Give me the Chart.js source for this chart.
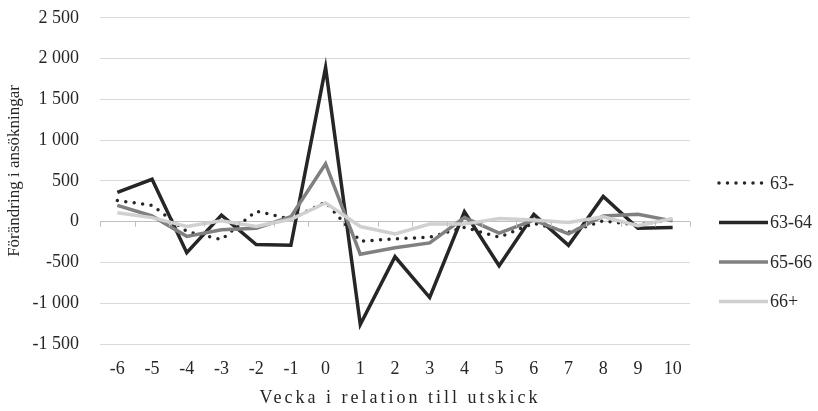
<!DOCTYPE html>
<html>
<head>
<meta charset="utf-8">
<script src="https://cdn.jsdelivr.net/npm/chart.js@4.4.0/dist/chart.umd.min.js"></script>
<style>
  html, body { margin: 0; padding: 0; background: #fff; }
  #wrap { position: relative; width: 818px; height: 411px; }
</style>
</head>
<body>
<div id="wrap"><canvas id="chart" width="818" height="411"></canvas></div>
<script>
// Weeks relative to the mailing
const weeks = ['-6', '-5', '-4', '-3', '-2', '-1', '0', '1', '2', '3', '4', '5', '6', '7', '8', '9', '10'];

// Change in applications per age group
const under63 = [260, 200, -120, -220, 130, 30, 240, -240, -210, -190, -70, -190, -20, -130, 10, -40, 30];
const age6364 = [360, 520, -380, 80, -280, -290, 1890, -1260, -430, -930, 120, -540, 90, -290, 310, -80, -70];
const age6566 = [200, 70, -180, -100, -80, 60, 710, -400, -320, -260, 50, -140, 20, -150, 70, 90, 10];
const over66  = [110, 50, -60, 10, -60, 30, 230, -60, -150, -30, -30, 40, 20, -10, 60, -50, 40];

const seriesNames = ['63-', '63-64', '65-66', '66+'];
const xTitle = 'Vecka i relation till utskick';
const yTitle = 'Förändring i ansökningar';

const FONT = 'Liberation Serif';
const TEXT = '#262626';

// thousands separated by a space, as in the source
const fmt = v => {
  const s = Math.abs(v).toString().replace(/\B(?=(\d{3})+(?!\d))/g, ' ');
  return (v < 0 ? '-' : '') + s;
};

// small tick marks on the zero line between categories
const zeroTicks = {
  id: 'zeroTicks',
  afterDatasetsDraw(chart) {
    const x = chart.scales.x, y = chart.scales.y;
    const y0 = y.getPixelForValue(0);
    const step = x.width / weeks.length;
    const ctx = chart.ctx;
    ctx.save();
    ctx.strokeStyle = '#bfbfbf';
    ctx.lineWidth = 1;
    ctx.beginPath();
    for (let i = 0; i <= weeks.length; i++) {
      const px = Math.round(x.left + i * step) + 0.5;
      ctx.moveTo(px, y0);
      ctx.lineTo(px, y0 + 5);
    }
    ctx.stroke();
    ctx.restore();
  }
};

// axis titles drawn by hand (x one is spaced out, y one sits a bit high)
const axisTitles = {
  id: 'axisTitles',
  afterDraw(chart) {
    const ctx = chart.ctx;
    const x = chart.scales.x, y = chart.scales.y;
    ctx.save();
    ctx.fillStyle = TEXT;
    ctx.textAlign = 'center';
    ctx.textBaseline = 'middle';

    ctx.font = `18px "${FONT}"`;
    if ('letterSpacing' in ctx) ctx.letterSpacing = '3px';
    ctx.fillText(xTitle, (x.left + x.right) / 2 + 5, 398);

    if ('letterSpacing' in ctx) ctx.letterSpacing = '0px';
    ctx.font = `17px "${FONT}"`;
    ctx.translate(15, (y.top + y.bottom) / 2 - 10);
    ctx.rotate(-Math.PI / 2);
    ctx.fillText(yTitle, 0, 0);
    ctx.restore();
  }
};

// legend on the right, drawn by hand to match the spacing
const sideLegend = {
  id: 'sideLegend',
  afterDraw(chart) {
    const ctx = chart.ctx;
    ctx.save();
    ctx.font = `18px "${FONT}"`;
    ctx.textBaseline = 'middle';
    ctx.fillStyle = TEXT;
    chart.data.datasets.forEach((ds, i) => {
      const yy = 183 + i * 39.5;
      ctx.beginPath();
      ctx.strokeStyle = ds.borderColor;
      ctx.lineWidth = ds.borderWidth;
      ctx.lineCap = ds.borderCapStyle || 'butt';
      ctx.setLineDash(ds.borderDash || []);
      ctx.moveTo(719, yy);
      ctx.lineTo(768, yy);
      ctx.stroke();
      ctx.setLineDash([]);
      ctx.fillText(ds.label, 770, yy + 1);
    });
    ctx.restore();
  }
};

new Chart(document.getElementById('chart'), {
  type: 'line',
  data: {
    labels: weeks,
    datasets: [
      {
        label: seriesNames[0],
        data: under63,
        borderColor: '#262626',
        borderWidth: 3.5,
        borderDash: [0, 8.5],
        borderCapStyle: 'round',
        order: 4,
      },
      {
        label: seriesNames[1],
        data: age6364,
        borderColor: '#262626',
        borderWidth: 3.5,
        order: 3,
      },
      {
        label: seriesNames[2],
        data: age6566,
        borderColor: '#808080',
        borderWidth: 3.5,
        order: 2,
      },
      {
        label: seriesNames[3],
        data: over66,
        borderColor: '#d0d0d0',
        borderWidth: 3.5,
        order: 1,
      },
    ],
  },
  options: {
    responsive: false,
    animation: false,
    layout: { padding: { top: 0, right: 128, left: 0, bottom: 0 } },
    elements: {
      point: { radius: 0, hoverRadius: 0 },
      line: { tension: 0, borderJoinStyle: 'miter', fill: false },
    },
    plugins: {
      legend: { display: false },
      tooltip: { enabled: false },
    },
    scales: {
      x: {
        offset: true,
        grid: { display: false, drawTicks: false },
        border: { display: false },
        ticks: { color: TEXT, font: { family: FONT, size: 18 }, padding: 14, maxRotation: 0, autoSkip: false },
        title: { display: false },
        afterFit: s => { s.height = 67; },
      },
      y: {
        min: -1500,
        max: 2500,
        grid: {
          drawTicks: true,
          tickLength: 14,
          tickColor: 'rgba(0,0,0,0)',
          color: c => (c.tick && c.tick.value === 0 ? '#bfbfbf' : '#d9d9d9'),
          lineWidth: 1,
        },
        border: { display: false },
        ticks: {
          stepSize: 500,
          color: TEXT,
          font: { family: FONT, size: 18 },
          padding: 7,
          callback: v => fmt(v),
        },
        title: { display: false },
        afterFit: s => { s.width = 100; },
      },
    },
  },
  plugins: [zeroTicks, axisTitles, sideLegend],
});
</script>
</body>
</html>
